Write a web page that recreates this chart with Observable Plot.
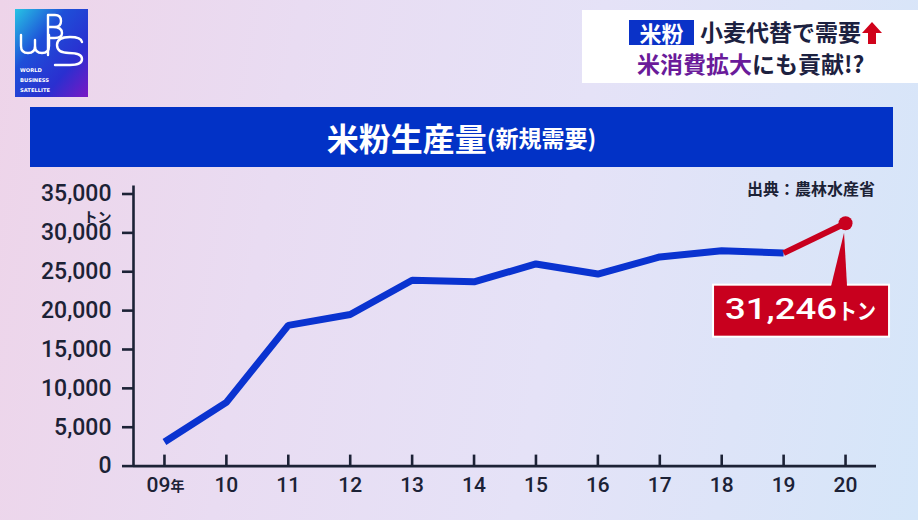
<!DOCTYPE html>
<html><head><meta charset="utf-8">
<script src="https://cdn.jsdelivr.net/npm/d3@7"></script>
<script src="https://cdn.jsdelivr.net/npm/@observablehq/plot@0.6"></script>
<style>
html,body{margin:0;padding:0;}
body{width:918px;height:520px;overflow:hidden;}
#stage{position:relative;width:918px;height:520px;overflow:hidden;
  background:linear-gradient(100deg,#eed4e9 0%,#e9dcf2 30%,#e5e2f7 60%,#d5e6f9 100%);
  font-family:"Noto Sans CJK JP","Noto Sans",sans-serif;}
#chart{position:absolute;left:0;top:0;}
#overlay{position:absolute;left:0;top:0;pointer-events:none;}
#logo{position:absolute;left:15px;top:9px;width:73px;height:88px;}
#headline{position:absolute;left:582px;top:10px;width:336px;height:73px;background:#fff;}
#headline .tag{position:absolute;left:47px;top:10px;width:65px;height:25px;background:#0a32c8;color:#fff;font-weight:700;font-size:22px;line-height:25px;text-align:center;}
#headline .l1{position:absolute;left:118px;top:6px;font-weight:700;font-size:23px;line-height:30px;color:#1c2140;white-space:nowrap;}
#headline .l2{position:absolute;left:55px;top:38px;font-weight:700;font-size:23px;line-height:30px;color:#1c2140;white-space:nowrap;}
#headline .purple{color:#6a1b9a;}
#banner{position:absolute;left:30px;top:107px;width:863px;height:60px;background:#0232c6;color:#fff;font-weight:700;
  display:flex;align-items:center;justify-content:center;}
#banner .big{font-size:32px;}
#banner .small{font-size:23px;}
#source{position:absolute;right:43px;top:176px;font-size:16px;font-weight:700;color:#1c2236;line-height:24px;}
</style></head>
<body>
<div id="stage">
  <svg id="logo" viewBox="0 0 73 88" width="73" height="88">
    <defs>
      <linearGradient id="lg" x1="0" y1="0" x2="1" y2="1">
        <stop offset="0" stop-color="#27c4e4"/>
        <stop offset="0.35" stop-color="#1e4fd8"/>
        <stop offset="0.7" stop-color="#2a2fd0"/>
        <stop offset="1" stop-color="#7a18c4"/>
      </linearGradient>
    </defs>
    <rect width="73" height="88" fill="url(#lg)"/>
    <g fill="none" stroke="#fff" stroke-width="2.4" stroke-linecap="round">
      <path d="M6,26 L6,37 Q6,44 13,44 Q20,44 20,37 L20,31 M20,37 Q20,44 27,44 Q34,44 34,37 L34,26"/>
      <path d="M33,6 L33,46 M33,6 L40,6 Q46,6 46,12 Q46,18 40,18 L33,18 M38,18 Q47,18 47,24 Q47,29 40,29 L33,29"/>
      <path d="M67,33 Q66,28 55,28 Q42,28 42,36 Q42,44 54,44 Q67,44 67,50 Q67,56 55,56 L40,56"/>
    </g>
    <g fill="#fff" font-family="DejaVu Sans" font-weight="700" font-size="5.2">
      <text x="5" y="63">WORLD</text>
      <text x="5" y="73">BUSINESS</text>
      <text x="5" y="83">SATELLITE</text>
    </g>
  </svg>
  <div id="headline">
    <div class="tag">米粉</div>
    <div class="l1">小麦代替で需要<svg width="20" height="22" viewBox="0 0 20 22" style="vertical-align:-3px;margin-left:1px"><path d="M10,0 L20,11 L14,11 L14,22 L6,22 L6,11 L0,11 Z" fill="#d0021b"/></svg></div>
    <div class="l2"><span class="purple">米消費拡大</span>にも貢献!?</div>
  </div>
  <div id="banner"><span class="big">米粉生産量</span><span class="small">(新規需要)</span></div>
  <div id="source">出典：農林水産省</div>
  <div id="chart"></div>
  <svg id="overlay" width="918" height="520"></svg>
</div>
<script>
// ---- data ----
const years = [2009, 2010, 2011, 2012, 2013, 2014, 2015, 2016, 2017, 2018, 2019, 2020];
const values = [3100, 8200, 18100, 19500, 23900, 23700, 26000, 24700, 26900, 27700, 27400, 31246];
const xLabels = ["09", "10", "11", "12", "13", "14", "15", "16", "17", "18", "19", "20"];
const yearSuffix = "年";
const yTicks = [0, 5000, 10000, 15000, 20000, 25000, 30000, 35000];
const yDomain = [0, 35000];
const xDomain = [2008.5, 2020.5];
const unitLabel = "トン";
const splitYear = 2019;
const calloutValue = "31,246";
const calloutUnit = "トン";

// ---- style ----
const INK = "#1c2236";
const BLUE = "#0a33d0";
const RED = "#c8001e";
const NUM_FONT = 'Roboto, "Noto Sans", sans-serif';
const JP_FONT = '"Noto Sans CJK JP", sans-serif';

const rows = years.map((y, i) => ({year: y, value: values[i]}));
const labelOf = d => xLabels[years.indexOf(d)];

const chart = Plot.plot({
  width: 918, height: 520,
  marginLeft: 133, marginRight: 42, marginTop: 193.5, marginBottom: 54.4,
  x: {domain: xDomain},
  y: {domain: yDomain},
  style: {background: "transparent", color: INK, fontFamily: NUM_FONT, overflow: "visible"},
  marks: [
    Plot.ruleX([xDomain[0]], {stroke: INK, strokeWidth: 2.6, insetTop: -8}),
    Plot.ruleY([0], {stroke: INK, strokeWidth: 2.6}),
    Plot.axisY({ticks: yTicks, tickSize: 11, tickPadding: 11, tickFormat: d3.format(","), fontSize: 23, fontWeight: 500, strokeWidth: 2.6, label: null}),
    Plot.axisX({ticks: years, tickSize: 11, dy: -11, tickFormat: () => "", strokeWidth: 2.6, label: null}),
    Plot.axisX({ticks: years.slice(1), tickSize: 0, tickPadding: 11, tickFormat: labelOf, fontSize: 21, fontWeight: 500, label: null}),
    Plot.text([years[0]], {x: d => d, y: () => 0, text: labelOf, fontSize: 21, fontWeight: 500, textAnchor: "end", lineAnchor: "top", dx: 6, dy: 11, fill: INK}),
    Plot.text([years[0]], {x: d => d, y: () => 0, text: () => yearSuffix, fontFamily: JP_FONT, fontSize: 14, fontWeight: 700, textAnchor: "start", lineAnchor: "top", dx: 6, dy: 15, fill: INK}),
    Plot.text([unitLabel], {frameAnchor: "top-left", text: d => d, dx: -22, dy: 18, textAnchor: "end", fontFamily: JP_FONT, fontSize: 14, fontWeight: 700, fill: INK}),
    Plot.line(rows.filter(d => d.year <= splitYear), {x: "year", y: "value", stroke: BLUE, strokeWidth: 7, strokeLinecap: "butt", strokeLinejoin: "miter"}),
    Plot.line(rows.filter(d => d.year >= splitYear), {x: "year", y: "value", stroke: RED, strokeWidth: 6, strokeLinecap: "butt", strokeLinejoin: "miter"}),
    Plot.dot(rows.slice(-1), {x: "year", y: "value", r: 7, fill: RED})
  ]
});
document.getElementById("chart").appendChild(chart);

// ---- callout anchored to the last point through the plot's scales ----
const last = rows[rows.length - 1];
const px = chart.scale("x").apply(last.year);
const py = chart.scale("y").apply(last.value);
const ov = d3.select("#overlay");
const bx = px - 132, by = py + 62, bw = 176, bh = 52;
ov.append("rect").attr("x", bx).attr("y", by).attr("width", bw).attr("height", bh)
  .attr("fill", RED).attr("stroke", "#fff").attr("stroke-width", 2);
ov.append("path").attr("d", `M${px - 1},${py + 10} L${px + 2},${by + 1.5} L${px - 14},${by + 1.5} Z`).attr("fill", RED);
ov.append("text").attr("x", bx + 12).attr("y", by + 34).attr("fill", "#fff")
  .attr("font-family", NUM_FONT).attr("font-size", 30).attr("font-weight", 500)
  .attr("textLength", 112).attr("lengthAdjust", "spacingAndGlyphs").text(calloutValue);
ov.append("text").attr("x", bx + 125).attr("y", by + 34).attr("fill", "#fff")
  .attr("font-family", JP_FONT).attr("font-size", 22).attr("font-weight", 700)
  .attr("textLength", 38).attr("lengthAdjust", "spacingAndGlyphs").text(calloutUnit);
</script>
</body></html>
